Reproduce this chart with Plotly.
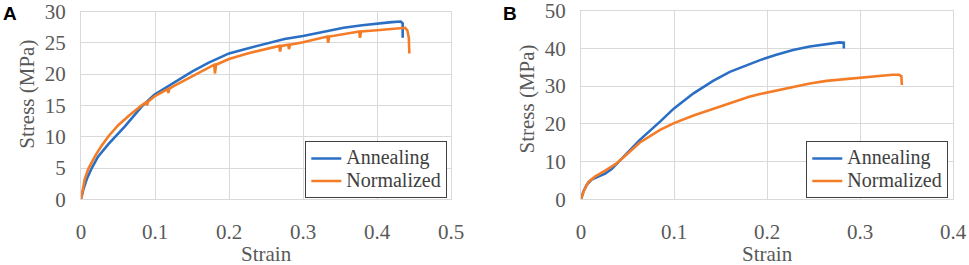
import plotly.graph_objects as go

# ---------------- data ----------------
# Panel A
a_ann_strain = [0, 0.003, 0.008, 0.0144, 0.023, 0.037, 0.059, 0.082, 0.099, 0.127, 0.15, 0.172,
                0.2, 0.225, 0.249, 0.275, 0.3, 0.33, 0.355, 0.38, 0.4, 0.42, 0.432, 0.4347, 0.4347]
a_ann_stress = [0, 1.5, 3.3, 4.95, 6.8, 8.8, 11.6, 14.8, 16.7, 18.8, 20.4, 21.8,
                23.3, 24.1, 24.8, 25.6, 26.1, 26.8, 27.4, 27.8, 28.1, 28.3, 28.4, 28.1, 25.8]

a_nor_strain = [0, 0.002, 0.005, 0.01, 0.015, 0.02, 0.028, 0.038, 0.05, 0.065, 0.082, 0.088, 0.0893,
                0.0905, 0.1, 0.117, 0.118, 0.1195, 0.127, 0.15, 0.172, 0.18, 0.181, 0.1825, 0.2,
                0.225, 0.249, 0.268, 0.269, 0.2705, 0.28, 0.281, 0.2825, 0.3, 0.333, 0.334, 0.3355,
                0.355, 0.376, 0.377, 0.3785, 0.4, 0.42, 0.432, 0.438, 0.441, 0.443, 0.4437]
a_nor_stress = [0, 1.6, 3.2, 4.9, 6.1, 7.1, 8.6, 10.2, 11.8, 13.4, 15.0, 15.5, 15.0,
                15.6, 16.5, 17.6, 17.0, 17.7, 18.2, 19.7, 21.0, 21.5, 20.1, 21.5, 22.4,
                23.3, 24.0, 24.5, 23.6, 24.5, 24.7, 24.0, 24.7, 25.1, 26.0, 25.0, 26.0,
                26.4, 26.8, 25.8, 26.8, 27.0, 27.2, 27.3, 27.4, 27.0, 25.8, 23.3]

# Panel B
b_ann_strain = [0, 0.0025, 0.006, 0.0115, 0.0186, 0.026, 0.033, 0.044, 0.063, 0.085, 0.1, 0.121,
                0.142, 0.16, 0.18, 0.1925, 0.21, 0.228, 0.246, 0.264, 0.278, 0.2826, 0.2826]
b_ann_stress = [0, 2.0, 3.8, 5.2, 6.0, 6.8, 8.0, 10.8, 15.7, 20.6, 24.1, 28.1,
                31.4, 33.8, 35.8, 36.9, 38.3, 39.6, 40.5, 41.2, 41.6, 41.5, 40.0]

b_nor_strain = [0, 0.003, 0.008, 0.015, 0.026, 0.037, 0.047, 0.063, 0.085, 0.1, 0.121, 0.142,
                0.16, 0.18, 0.1925, 0.21, 0.228, 0.246, 0.264, 0.3, 0.318, 0.335, 0.342,
                0.3445, 0.345]
b_nor_stress = [0, 2.2, 4.6, 6.0, 7.6, 9.3, 11.4, 15.0, 18.4, 20.2, 22.2, 24.0,
                25.5, 27.1, 27.9, 28.8, 29.9, 30.7, 31.4, 32.3, 32.7, 33.0, 33.0,
                32.6, 30.3]

series_names = ["Annealing", "Normalized"]
x_ticks_a = [0, 0.1, 0.2, 0.3, 0.4, 0.5]
x_ticks_b = [0, 0.1, 0.2, 0.3, 0.4]
y_ticks_a = [0, 5, 10, 15, 20, 25, 30]
y_ticks_b = [0, 10, 20, 30, 40, 50]

# ---------------- style ----------------
BLUE = "#2a6fc4"
ORANGE = "#f57c27"
GRID = "#d9d9d9"
TXT = "#595959"
SERIF = "Liberation Serif"
W, H = 969, 265


def leg_name(s):
    # larger glyphs inside a compact legend row
    return f"<span style='font-size:20px'>{s}</span>"


fig = go.Figure()
fig.add_trace(go.Scatter(x=a_ann_strain, y=a_ann_stress, mode="lines", name=leg_name(series_names[0]),
                         line=dict(color=BLUE, width=2.6), xaxis="x", yaxis="y", legend="legend"))
fig.add_trace(go.Scatter(x=a_nor_strain, y=a_nor_stress, mode="lines", name=leg_name(series_names[1]),
                         line=dict(color=ORANGE, width=2.6), xaxis="x", yaxis="y", legend="legend"))
fig.add_trace(go.Scatter(x=b_ann_strain, y=b_ann_stress, mode="lines", name=leg_name(series_names[0]),
                         line=dict(color=BLUE, width=2.6), xaxis="x2", yaxis="y2", legend="legend2"))
fig.add_trace(go.Scatter(x=b_nor_strain, y=b_nor_stress, mode="lines", name=leg_name(series_names[1]),
                         line=dict(color=ORANGE, width=2.6), xaxis="x2", yaxis="y2", legend="legend2"))


def ax(domain, rng, ticks, anchor, standoff):
    return dict(domain=domain, range=rng, tickmode="array", tickvals=ticks,
                ticktext=[f"{v:g}" for v in ticks], anchor=anchor,
                showgrid=True, gridcolor=GRID, gridwidth=1,
                zeroline=False, showline=True, linecolor=GRID, linewidth=1, mirror=True,
                ticks="", tickfont=dict(family=SERIF, size=21, color=TXT),
                ticklabelstandoff=standoff, ticklabeloverflow="allow",
                automargin=False, fixedrange=True)


xa = ax([81 / W, 451 / W], [0, 0.5], x_ticks_a, "y", 13)
ya = ax([(H - 199.3) / H, (H - 11.5) / H], [0, 30], y_ticks_a, "x", 10)
xb = ax([581 / W, 953 / W], [0, 0.4], x_ticks_b, "y2", 13)
yb = ax([(H - 199.3) / H, (H - 10.7) / H], [0, 50], y_ticks_b, "x2", 10)

leg_common = dict(bgcolor="white", bordercolor="#404040", borderwidth=1,
                  font=dict(family=SERIF, size=15, color="#404040"),
                  xanchor="right", yanchor="bottom", itemwidth=30,
                  tracegroupgap=0)

lab = dict(family=SERIF, size=21, color=TXT)
fig.update_layout(
    width=W, height=H,
    margin=dict(l=0, r=0, t=0, b=0, autoexpand=False),
    paper_bgcolor="white", plot_bgcolor="white",
    xaxis=xa, yaxis=ya, xaxis2=xb, yaxis2=yb,
    legend=dict(x=447.3 / W, y=(H - 198.3) / H, **leg_common),
    legend2=dict(x=948.3 / W, y=(H - 198.3) / H, **leg_common),
    annotations=[
        dict(text="Strain", x=266 / W, y=(H - 254) / H, xref="paper", yref="paper",
             showarrow=False, font=lab, xanchor="center", yanchor="middle"),
        dict(text="Strain", x=767 / W, y=(H - 254) / H, xref="paper", yref="paper",
             showarrow=False, font=lab, xanchor="center", yanchor="middle"),
        dict(text="Stress (MPa)", x=26.7 / W, y=(H - 94) / H, xref="paper", yref="paper",
             showarrow=False, textangle=-90, font=lab, xanchor="center", yanchor="middle"),
        dict(text="Stress (MPa)", x=526.5 / W, y=(H - 99) / H, xref="paper", yref="paper",
             showarrow=False, textangle=-90, font=lab, xanchor="center", yanchor="middle"),
        dict(text="<b>A</b>", x=10 / W, y=(H - 13.5) / H, xref="paper", yref="paper",
             showarrow=False, font=dict(family="Liberation Sans", size=19, color="black"),
             xanchor="center", yanchor="middle"),
        dict(text="<b>B</b>", x=509.5 / W, y=(H - 13.5) / H, xref="paper", yref="paper",
             showarrow=False, font=dict(family="Liberation Sans", size=19, color="black"),
             xanchor="center", yanchor="middle"),
    ],
)

fig.write_html("out.html", config={"displayModeBar": False},
               post_script="document.body.style.margin='0';document.body.style.overflow='hidden';")
